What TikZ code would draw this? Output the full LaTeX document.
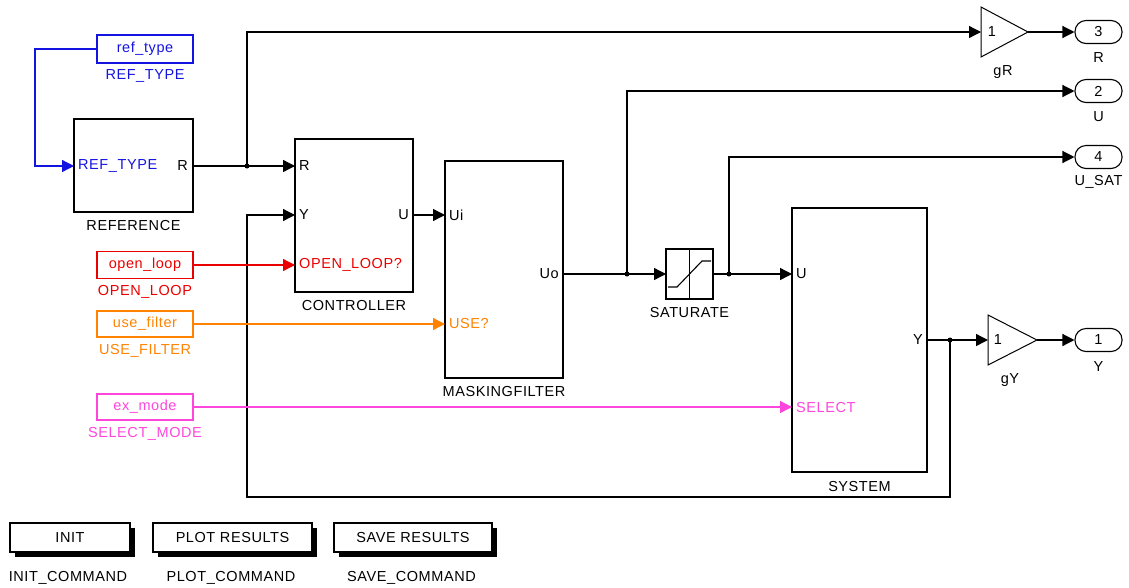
\documentclass[tikz,border=0pt]{standalone}
\usepackage{fontspec}
\setmainfont{Liberation Sans}[LetterSpace=4]
\usetikzlibrary{arrows.meta}
\definecolor{sblue}{RGB}{20,20,225}
\definecolor{sred}{RGB}{235,0,0}
\definecolor{sorange}{RGB}{255,130,0}
\definecolor{smag}{RGB}{255,70,220}
\tikzset{
  txt/.style={font=\fontsize{14.5}{17}\selectfont, inner sep=0pt},
  blk/.style={draw, line width=1.3pt, inner sep=0pt},
  sig/.style={line width=1.3pt, -{Triangle[length=12pt,width=12pt]}},
  wire/.style={line width=1.3pt},
  dot/.style={circle, fill, inner sep=0pt, minimum size=5pt},
  outp/.style={draw, line width=1.1pt, rounded corners=11pt, minimum width=47pt, minimum height=23pt, inner sep=0pt, font=\fontsize{14.5}{17}\selectfont},
  btn/.style={draw, line width=1.2pt, fill=white, inner sep=0pt, font=\fontsize{14.5}{17}\selectfont},
}
\begin{document}
\begin{tikzpicture}[x=1pt,y=-1pt]
\useasboundingbox (0,0) rectangle (1129,587);
% ---------- blocks ----------
\node[blk, sblue, txt, minimum width=96pt, minimum height=28pt] (reftype) at (145,49) {ref\_type};
\node[txt, sblue] (reftypeL) at (145,76) {REF\_TYPE};
\node[blk, minimum width=119pt, minimum height=93pt] (refblk) at (133.5,165.5) {};
\node[txt] (refL) at (133.5,226) {REFERENCE};
\node[blk, minimum width=118pt, minimum height=153pt] (ctrl) at (354,215.5) {};
\node[txt] (ctrlL) at (354,306) {CONTROLLER};
\node[blk, minimum width=118pt, minimum height=217pt] (mask) at (504,269.5) {};
\node[txt] (maskL) at (504,392) {MASKINGFILTER};
\node[blk, minimum width=47pt, minimum height=50pt] (sat) at (689.5,274) {};
\node[txt] (satL) at (689.5,313) {SATURATE};
\node[blk, minimum width=135pt, minimum height=264pt] (sys) at (859.5,340) {};
\node[txt] (sysL) at (859.5,486) {SYSTEM};
\node[blk, sred, txt, minimum width=96pt, minimum height=27pt] (openloop) at (145,265) {open\_loop};
\node[txt, sred] (openloopL) at (145,292) {OPEN\_LOOP};
\node[blk, sorange, txt, minimum width=96pt, minimum height=26pt] (usefilter) at (145,324) {use\_filter};
\node[txt, sorange] (usefilterL) at (145,351) {USE\_FILTER};
\node[blk, smag, txt, minimum width=96pt, minimum height=26pt] (exmode) at (145,407) {ex\_mode};
\node[txt, smag] (exmodeL) at (145,434) {SELECT\_MODE};
% saturation icon
\draw[line width=1.1pt] (sat.north) -- (sat.south);
\draw[line width=1.1pt] (668,287) -- (677,287) -- (702,261) -- (711,261);
% gains
\coordinate (gRin) at (981,32); \coordinate (gRout) at (1028,32);
\draw[line width=1pt] (981,7) -- (gRout) -- (981,57) -- cycle;
\node[txt] (gR1) at (992,32) {1};
\node[txt] (gRL) at (1003,72) {gR};
\coordinate (gYin) at (988,340); \coordinate (gYout) at (1037,340);
\draw[line width=1pt] (988,315) -- (gYout) -- (988,365) -- cycle;
\node[txt] (gY1) at (998,340) {1};
\node[txt] (gYL) at (1010,380) {gY};
% outports
\node[outp] (out3) at (1098.5,32) {3};
\node[txt] (out3L) at (1098.5,58) {R};
\node[outp] (out2) at (1098.5,91) {2};
\node[txt] (out2L) at (1098.5,117) {U};
\node[outp] (out4) at (1098.5,157) {4};
\node[txt] (out4L) at (1098.5,182) {U\_SAT};
\node[outp] (out1) at (1098.5,340) {1};
\node[txt] (out1L) at (1098.5,367) {Y};
% ---------- ports ----------
\coordinate (refIn) at (74,166);
\coordinate (refOut) at (193,166);
\coordinate (ctrlR) at (295,166);
\coordinate (ctrlY) at (295,215);
\coordinate (ctrlOL) at (295,265);
\coordinate (ctrlU) at (413,215);
\coordinate (maskUi) at (445,215);
\coordinate (maskUse) at (445,324);
\coordinate (maskUo) at (563,274);
\coordinate (satIn) at (666,274);
\coordinate (satOut) at (713,274);
\coordinate (sysU) at (792,274);
\coordinate (sysSel) at (792,407);
\coordinate (sysY) at (927,340);
\coordinate (jR) at (247,166);
\coordinate (j1) at (627,274);
\coordinate (j2) at (729,274);
\coordinate (jY) at (950,340);
\coordinate (fbA) at (950,497);
\coordinate (fbB) at (247,497);
\coordinate (fbC) at (247,215);
\coordinate (rtBend) at (35,49);
% port labels
\node[txt, sblue, anchor=west] (pRefType) at (78,166) {REF\_TYPE};
\node[txt, anchor=east] (pRefR) at (188,166) {R};
\node[txt, anchor=west] (pCR) at (299,166) {R};
\node[txt, anchor=west] (pCY) at (299,215) {Y};
\node[txt, sred, anchor=west] (pCOL) at (299,265) {OPEN\_LOOP?};
\node[txt, anchor=east] (pCU) at (409,215) {U};
\node[txt, anchor=west] (pMUi) at (449,215) {Ui};
\node[txt, sorange, anchor=west] (pMUse) at (449,324) {USE?};
\node[txt, anchor=east] (pMUo) at (559,274) {Uo};
\node[txt, anchor=west] (pSU) at (796,274) {U};
\node[txt, smag, anchor=west] (pSSel) at (796,407) {SELECT};
\node[txt, anchor=east] (pSY) at (923,340) {Y};
% ---------- wires ----------
\draw[sig, sblue] (reftype.west) -- (rtBend) |- (refIn);
\draw[sig] (refOut) -- (ctrlR);
\draw[sig] (jR) |- (gRin);
\draw[sig] (gRout) -- (out3.west);
\draw[sig] (ctrlU) -- (maskUi);
\draw[sig] (maskUo) -- (satIn);
\draw[sig] (j1) |- (out2.west);
\draw[sig] (satOut) -- (sysU);
\draw[sig] (j2) |- (out4.west);
\draw[sig] (sysY) -- (gYin);
\draw[sig] (gYout) -- (out1.west);
\draw[sig] (jY) -- (fbA) -- (fbB) -- (fbC) -- (ctrlY);
\draw[sig, sred] (openloop.east) -- (ctrlOL);
\draw[sig, sorange] (usefilter.east) -- (maskUse);
\draw[sig, smag] (exmode.east) -- (sysSel);
\node[dot] (dR) at (jR) {};
\node[dot] (d1) at (j1) {};
\node[dot] (d2) at (j2) {};
\node[dot] (dY) at (jY) {};
% ---------- buttons ----------
\fill (15,528) rectangle (135,557);
\node[btn, minimum width=120pt, minimum height=29pt] (init) at (70,537.5) {INIT};
\node[txt] (initL) at (68,578) {INIT\_COMMAND};
\fill (158,528) rectangle (317,557);
\node[btn, minimum width=159pt, minimum height=29pt] (plot) at (232.5,537.5) {PLOT RESULTS};
\node[txt] (plotL) at (231,578) {PLOT\_COMMAND};
\fill (339,528) rectangle (497,557);
\node[btn, minimum width=158pt, minimum height=29pt] (save) at (413,537.5) {SAVE RESULTS};
\node[txt] (saveL) at (411.5,578) {SAVE\_COMMAND};
\end{tikzpicture}
\end{document}
